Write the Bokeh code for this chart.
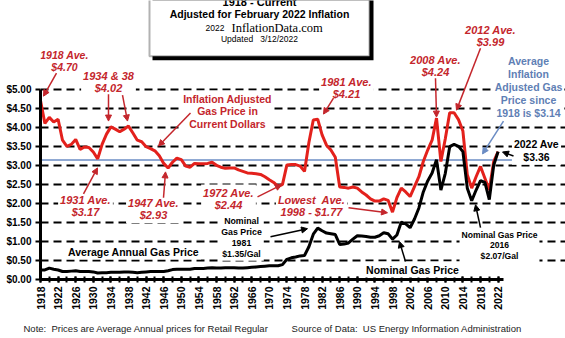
import math
from bokeh.plotting import figure
from bokeh.models import (Range1d, FixedTicker, NumeralTickFormatter, Label, Arrow,
                          NormalHead, BoxAnnotation, Title)
from bokeh.embed import file_html
from bokeh.resources import INLINE

# ---------------- data ----------------
years = list(range(1918, 2023))
inflation_adjusted = [
    4.70, 4.10, 4.26, 4.14, 4.21, 3.66, 3.50, 3.55, 3.68, 3.42,   # 1918-1927
    3.48, 3.47, 3.35, 3.17, 3.55, 3.82, 4.01, 3.95, 3.88, 3.95,   # 1928-1937
    4.03, 3.85, 3.66, 3.62, 3.49, 3.44, 3.38, 3.25, 3.05, 2.93,   # 1938-1947
    3.08, 3.19, 3.15, 2.98, 2.95, 3.05, 3.04, 3.04, 3.05, 3.08,   # 1948-1957
    3.00, 2.95, 2.92, 2.93, 2.93, 2.88, 2.84, 2.80, 2.79, 2.78,   # 1958-1967
    2.76, 2.70, 2.62, 2.55, 2.44, 2.50, 3.01, 3.02, 3.02, 2.98,   # 1968-1977
    2.84, 3.60, 4.19, 4.21, 3.80, 3.53, 3.40, 3.21, 2.43, 2.42,   # 1978-1987
    2.40, 2.43, 2.40, 2.30, 2.22, 2.12, 2.06, 2.06, 2.12, 2.08,   # 1988-1997
    1.77, 2.15, 2.40, 2.30, 2.18, 2.44, 2.70, 3.10, 3.40, 3.66,   # 1998-2007
    4.24, 3.10, 3.70, 4.38, 4.38, 4.20, 3.90, 2.75, 2.40, 2.70,   # 2008-2017
    2.97, 2.66, 2.35, 3.10, 3.36,                                 # 2018-2022
]
nominal = [
    0.25, 0.25, 0.30, 0.27, 0.25, 0.21, 0.21, 0.22, 0.23, 0.21,   # 1918-1927
    0.21, 0.21, 0.20, 0.17, 0.18, 0.18, 0.19, 0.19, 0.19, 0.20,   # 1928-1937
    0.20, 0.19, 0.18, 0.19, 0.20, 0.21, 0.21, 0.21, 0.21, 0.23,   # 1938-1947
    0.26, 0.27, 0.27, 0.27, 0.27, 0.29, 0.29, 0.29, 0.30, 0.31,   # 1948-1957
    0.30, 0.30, 0.31, 0.31, 0.31, 0.30, 0.30, 0.31, 0.32, 0.33,   # 1958-1967
    0.34, 0.35, 0.36, 0.36, 0.36, 0.39, 0.53, 0.57, 0.59, 0.62,   # 1968-1977
    0.63, 0.86, 1.19, 1.35, 1.28, 1.22, 1.20, 1.18, 0.92, 0.93,   # 1978-1987
    0.96, 1.06, 1.15, 1.14, 1.13, 1.11, 1.11, 1.15, 1.23, 1.20,   # 1988-1997
    1.06, 1.17, 1.51, 1.46, 1.36, 1.59, 1.88, 2.30, 2.59, 2.80,   # 1998-2007
    3.15, 2.35, 2.79, 3.49, 3.55, 3.50, 3.36, 2.40, 2.07, 2.35,   # 2008-2017
    2.60, 2.55, 2.10, 3.00, 3.36,                                 # 2018-2022
]
average_adjusted = 3.14
x_tick_years = list(range(1918, 2023, 4))
x_minor_years = list(range(1918, 2023, 2))
y_tick_values = [0.0, 0.5, 1.0, 1.5, 2.0, 2.5, 3.0, 3.5, 4.0, 4.5, 5.0]

# ---------------- layout ----------------
W, H = 565, 338
LEFT, BOTTOM = 40, 58
PX_PER_YEAR = 4.4
PX_PER_DOLLAR = 38.2
FRAME_W = W - LEFT
FRAME_H = H - BOTTOM


def X(px):
    return years[0] + (px - LEFT) / PX_PER_YEAR


def Y(py):
    return (FRAME_H - py) / PX_PER_DOLLAR


RED = "#e3211c"
RED_TXT = "#c4262c"
BLUE = "#6b8cc4"
BLUE_TXT = "#5f7fb5"
FONT = "Liberation Sans"
NB = "\u00a0"

p = figure(width=W, height=H, output_backend="svg", toolbar_location=None,
           x_range=Range1d(years[0], X(W)), y_range=Range1d(0, Y(0)),
           min_border_left=LEFT, min_border_right=0, min_border_top=0,
           min_border_bottom=BOTTOM)
p.outline_line_color = None
p.background_fill_color = "white"
p.border_fill_color = "white"

# grid
p.xgrid.visible = False
p.ygrid.ticker = FixedTicker(ticks=y_tick_values[1:])
p.ygrid.grid_line_color = "black"
p.ygrid.grid_line_width = 2
p.ygrid.grid_line_dash = "8 5"
p.ygrid.bounds = (years[0], X(503))

# y axis
p.yaxis.ticker = FixedTicker(ticks=y_tick_values)
p.yaxis.formatter = NumeralTickFormatter(format="$0.00")
p.yaxis.bounds = (0, 5.0)
p.yaxis.axis_line_width = 3
p.yaxis.axis_line_color = "black"
p.yaxis.major_tick_out = 5
p.yaxis.major_tick_in = 0
p.yaxis.major_tick_line_width = 2
p.yaxis.minor_tick_line_color = None
p.yaxis.major_label_text_font = FONT
p.yaxis.major_label_text_font_style = "bold"
p.yaxis.major_label_text_font_size = "10px"
p.yaxis.major_label_text_color = "black"
p.yaxis.major_label_standoff = 4

# x axis
p.xaxis.ticker = FixedTicker(ticks=x_tick_years, minor_ticks=x_minor_years)
p.xaxis.bounds = (years[0], X(503))
p.xaxis.axis_line_width = 3
p.xaxis.axis_line_color = "black"
p.xaxis.major_tick_out = 3
p.xaxis.major_tick_in = 3
p.xaxis.minor_tick_out = 3
p.xaxis.minor_tick_in = 3
p.xaxis.major_tick_line_width = 2
p.xaxis.minor_tick_line_width = 2
p.xaxis.major_label_orientation = math.pi / 2
p.xaxis.major_label_text_font = FONT
p.xaxis.major_label_text_font_style = "bold"
p.xaxis.major_label_text_font_size = "10.5px"
p.xaxis.major_label_text_color = "black"
p.xaxis.major_label_standoff = 4

# notes below the axis (titles are laid out outside the frame)
spacer = Title(text=NB, text_font_size="10px", standoff=8)
p.add_layout(spacer, "below")
notes = Title(
    text=("Note:" + NB + " Prices are Average Annual prices for Retail Regular"
          + NB * 9 + "Source of Data:" + NB + " US Energy Information Administration\n"
          + NB * 101 + "CPI-U Inflation" + NB + " index - www.bls.gov"),
    align="left", offset=23 - LEFT, vertical_align="top",
    text_font=FONT, text_font_size="9.5px", text_font_style="normal",
    text_color="#222222", text_line_height=1.15)
try:
    notes.standoff = -21
except ValueError:
    notes.standoff = 0
p.add_layout(notes, "below")

# data lines
p.line([years[0], X(512)], [average_adjusted, average_adjusted],
       line_color=BLUE, line_width=1.6)
p.line(years, inflation_adjusted, line_color=RED, line_width=3)
p.line(years, nominal, line_color="black", line_width=3)

# title box
p.add_layout(BoxAnnotation(left=X(152), right=X(373), top=Y(-10), bottom=Y(60),
                           fill_color="black", fill_alpha=1, line_color=None))
p.add_layout(BoxAnnotation(left=X(149), right=X(369), top=Y(-10), bottom=Y(56),
                           fill_color="white", fill_alpha=1, line_color="black",
                           line_width=2))


def label(text, px, py, color, size, style="bold", bg=True, align="center",
          lh=1.0, font=FONT):
    p.add_layout(Label(x=px, y=py, x_units="canvas", y_units="canvas",
                       text=text, text_color=color,
                       text_font=font, text_font_size=f"{size}px",
                       text_font_style=style, text_align=align,
                       text_baseline="middle", text_line_height=lh,
                       background_fill_color="white" if bg else None,
                       padding=2))


def arrow(x0, y0, x1, y1, color, w=1.5):
    p.add_layout(Arrow(end=NormalHead(size=6, line_color=color, fill_color=color,
                                      line_width=1),
                       x_start=X(x0), y_start=Y(y0), x_end=X(x1), y_end=Y(y1),
                       line_color=color, line_width=w))


# title text
label("1918 - Current", 259, 1, "black", 11, bg=False)
label("Adjusted for February 2022 Inflation", 259, 13, "black", 10.5, bg=False)
label("2022", 226, 27, "black", 8.5, style="normal", bg=False, align="right")
label("InflationData.com", 229, 27, "black", 12.5, style="normal", bg=False,
      align="left", font="Liberation Serif")
label("Updated" + NB * 2 + " 3/12/2022", 259, 38, "black", 8.5, style="normal", bg=False)

# red annotations
label("1918 Ave.\n$4.70", 64, 60.5, RED_TXT, 10.5, style="bold italic", lh=1.05)
label("1934 & 38\n$4.02", 108, 81.5, RED_TXT, 11, style="bold italic")
label("Inflation Adjusted\nGas Price in\nCurrent Dollars", 227, 111, RED_TXT, 10.5, lh=1.08)
label("1981 Ave.\n$4.21", 346, 87, RED_TXT, 11, style="bold italic")
label("2008 Ave.\n$4.24", 435, 65, RED_TXT, 11, style="bold italic")
label("2012 Ave.\n$3.99", 490, 35, RED_TXT, 11, style="bold italic")
label("1931 Ave.\n$3.17", 85, 205, RED_TXT, 11, style="bold italic")
label("1947 Ave.\n$2.93", 153, 208.5, RED_TXT, 11, style="bold italic")
label("1972 Ave.\n$2.44", 228, 198, RED_TXT, 11, style="bold italic")
label("Lowest" + NB + " Ave.\n1998 - $1.77", 311, 205, RED_TXT, 11, style="bold italic")

# blue annotation
label("Average\nInflation\nAdjusted Gas\nPrice since\n1918 is $3.14", 528, 86.5,
      BLUE_TXT, 10.5, lh=1.1)

# black annotations
label("2022 Ave\n$3.36", 536, 150, "black", 10.5, lh=1.05)
label("Nominal\nGas Price\n1981\n$1.35/Gal", 241, 237, "black", 8.8, lh=1.08)
label("Average Annual Gas Price", 133, 251, "black", 10.5)
label("Nominal Gas Price", 412, 269, "black", 10.5)
label("Nominal Gas Price\n2016\n$2.07/Gal", 499, 244.5, "black", 8.6, lh=1.05)

# arrows
arrow(56, 73, 43, 96, RED_TXT)
arrow(108, 94, 108, 121, RED_TXT)
arrow(122, 95, 127, 121, RED_TXT)
arrow(190, 113, 158, 146, RED_TXT)
arrow(333, 98, 323, 114, RED_TXT)
arrow(435, 78, 436, 117, RED_TXT)
arrow(480, 48, 456, 110, RED_TXT)
arrow(83, 194, 97, 168, RED_TXT)
arrow(163, 198, 165, 172, RED_TXT)
arrow(257, 197, 281, 185, RED_TXT)
arrow(348, 208, 387, 213, RED_TXT)
arrow(270, 237, 307, 229, "black")
arrow(405, 262, 399, 242, "black")
arrow(480, 228, 475, 205, "black")
arrow(513, 156, 502, 152, "black")
arrow(503, 121, 482, 154, BLUE)

open("out.html", "w").write(file_html(p, INLINE))
